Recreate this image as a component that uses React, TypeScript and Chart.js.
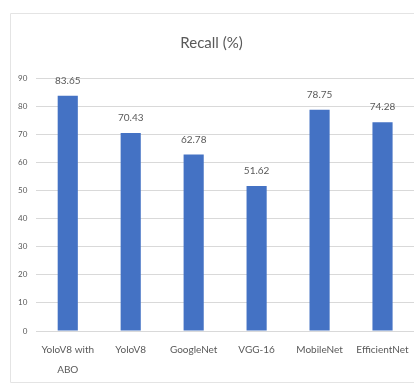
import React, { useEffect, useRef } from "react";
import { Chart, registerables } from "chart.js";

Chart.register(...registerables);

const models: (string | string[])[] = [
  ["YoloV8 with", "ABO"],
  "YoloV8",
  "GoogleNet",
  "VGG-16",
  "MobileNet",
  "EfficientNet",
];
const recall: number[] = [83.65, 70.43, 62.78, 51.62, 78.75, 74.28];
const yTicks: number[] = [0, 10, 20, 30, 40, 50, 60, 70, 80, 90];

const FONT = "Lato, 'Open Sans', sans-serif";
const TEXT = "#595959";
const GRID = "#d9d9d9";
const BAR = "#4472C4";
const FRAME = "#e4e4e4";

const valueLabels = {
  id: "valueLabels",
  afterDatasetsDraw(chart: Chart) {
    const ctx = chart.ctx;
    const meta = chart.getDatasetMeta(0);
    ctx.save();
    ctx.font = `10px ${FONT}`;
    ctx.fillStyle = TEXT;
    ctx.textAlign = "center";
    ctx.textBaseline = "middle";
    meta.data.forEach((el: any, i: number) => {
      ctx.fillText(recall[i].toFixed(2), el.x, el.y - 15);
    });
    ctx.restore();
  },
};

// Outer chart frame: open on the right side
const frame = {
  id: "frame",
  beforeDraw(chart: Chart) {
    const ctx = chart.ctx;
    ctx.save();
    ctx.strokeStyle = FRAME;
    ctx.lineWidth = 1;
    ctx.beginPath();
    ctx.moveTo(414, 13.5);
    ctx.lineTo(10.5, 13.5);
    ctx.lineTo(10.5, 382.5);
    ctx.lineTo(414, 382.5);
    ctx.stroke();
    ctx.restore();
  },
};

export default function App() {
  const ref = useRef<HTMLCanvasElement>(null);

  useEffect(() => {
    if (!ref.current) return;
    const chart = new Chart(ref.current, {
      type: "bar",
      data: {
        labels: models,
        datasets: [
          {
            data: recall,
            backgroundColor: BAR,
            categoryPercentage: 1,
            barPercentage: 0.32,
          },
        ],
      },
      options: {
        responsive: false,
        animation: false,
        layout: { padding: { left: 9, right: 0, top: 34, bottom: 4 } },
        plugins: {
          legend: { display: false },
          tooltip: { enabled: false },
          title: {
            display: true,
            text: "Recall (%)",
            color: TEXT,
            font: { family: FONT, size: 15, weight: "normal" },
            padding: { top: 0, bottom: 26 },
          },
        },
        scales: {
          x: {
            grid: { display: false },
            border: { color: GRID },
            ticks: {
              color: TEXT,
              font: { family: FONT, size: 10, lineHeight: 2.0 },
              padding: 1,
              maxRotation: 0,
              autoSkip: false,
            },
          },
          y: {
            min: 0,
            max: 90,
            afterBuildTicks(scale: any) {
              scale.ticks = yTicks.map((v) => ({ value: v }));
            },
            grid: { color: GRID, drawTicks: false },
            border: { display: false },
            ticks: {
              color: TEXT,
              font: { family: FONT, size: 8 },
              padding: 9,
            },
          },
        },
      },
      plugins: [frame, valueLabels],
    });
    return () => chart.destroy();
  }, []);

  return (
    <div
      style={{
        position: "fixed",
        left: 0,
        top: 0,
        width: 414,
        height: 385,
        background: "#fff",
      }}
    >
      <canvas
        ref={ref}
        width={414}
        height={385}
        style={{ position: "absolute", left: 0, top: 0 }}
      />
    </div>
  );
}
